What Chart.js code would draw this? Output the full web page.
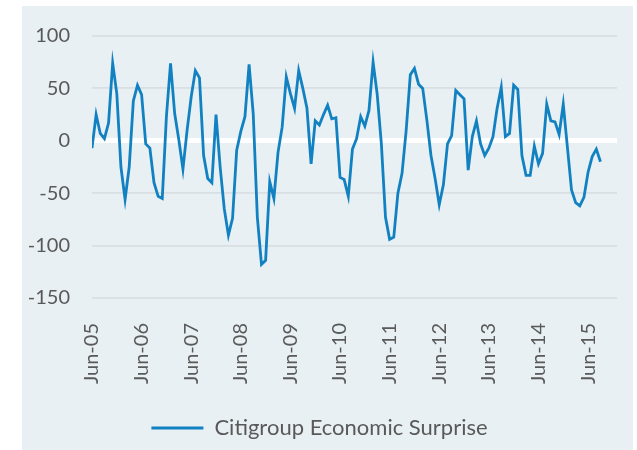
<!DOCTYPE html>
<html>
<head>
<meta charset="utf-8">
<script src="https://cdn.jsdelivr.net/npm/chart.js@4"></script>
<style>
  html, body { margin: 0; padding: 0; background: #ffffff; }
  #panel {
    position: absolute; left: 22px; top: 6px;
    width: 611px; height: 444px;
    background: #e8f0f4;
  }
</style>
</head>
<body>
<div id="panel"><canvas id="chart" width="611" height="444"></canvas></div>
<script>
// Monthly values, Jun-05 .. Sep-15
const surprise = [
  -7, 25, 7, 2, 17, 74, 45, -25, -56, -25, 38, 53, 44, -3, -7, -40,
  -53, -55, 23, 74, 26, 1, -27, 10, 42, 67, 60, -14, -36, -40, 25, -25,
  -65, -90, -74, -9, 9, 23, 73, 26, -73, -118, -114, -39, -55, -11, 13, 61,
  45, 31, 67, 50, 31, -22, 19, 15, 25, 34, 21, 22, -35, -37, -53, -8,
  2, 23, 14, 29, 75, 44, -3, -73, -94, -92, -50, -31, 10, 63, 69, 54,
  50, 20, -14, -36, -61, -42, -3, 5, 48, 44, 40, -28, 4, 19, -3, -14,
  -7, 4, 31, 51, 4, 7, 53, 49, -14, -33, -33, -5, -22, -12, 35, 19,
  18, 6, 35, -6, -47, -59, -62, -54, -30, -15, -8, -20
];
const seriesName = 'Citigroup Economic Surprise';

// one tick per June, every 12 months from the first point
const xTickLabels = ['Jun-05', 'Jun-06', 'Jun-07', 'Jun-08', 'Jun-09', 'Jun-10',
                     'Jun-11', 'Jun-12', 'Jun-13', 'Jun-14', 'Jun-15'];
const yTicks = [-150, -100, -50, 0, 50, 100];

const textColor = '#595959';
const font = { family: 'Lato', size: 20 };

new Chart(document.getElementById('chart'), {
  type: 'line',
  data: {
    datasets: [{
      label: seriesName,
      data: surprise.map((v, i) => ({ x: i, y: v })),
      borderColor: '#1281c1',
      borderWidth: 2.8,
      pointRadius: 0,
      tension: 0
    }]
  },
  options: {
    responsive: false,
    animation: false,
    layout: { padding: { top: 30, right: 16, bottom: 1, left: 0 } },
    plugins: {
      tooltip: { enabled: false },
      legend: {
        position: 'bottom',
        labels: {
          color: textColor,
          font: { family: 'Lato', size: 22 },
          usePointStyle: true,
          pointStyle: 'line',
          pointStyleWidth: 52,
          padding: 10
        }
      }
    },
    scales: {
      x: {
        type: 'linear',
        min: 0,
        max: 127,
        afterBuildTicks: s => { s.ticks = xTickLabels.map((_, i) => ({ value: i * 12 })); },
        afterFit: s => { s.height = 109; },
        grid: { display: false },
        border: { display: false },
        ticks: {
          autoSkip: false,
          minRotation: 90,
          maxRotation: 90,
          padding: 17,
          color: textColor,
          font: font,
          callback: (v, i) => xTickLabels[i]
        }
      },
      y: {
        min: -150,
        max: 100,
        afterBuildTicks: s => { s.ticks = yTicks.map(v => ({ value: v })); },
        afterFit: s => { s.width = 70; },
        border: { display: false },
        grid: {
          // invisible tick marks give the gap between labels and plot
          tickLength: 22,
          tickColor: 'rgba(0,0,0,0)',
          color: c => c.tick && c.tick.value === 0 ? '#ffffff' : '#d9dfe3',
          lineWidth: c => c.tick && c.tick.value === 0 ? 5 : 1.8
        },
        ticks: {
          padding: 0,
          color: textColor,
          font: font
        }
      }
    }
  }
});
</script>
</body>
</html>
